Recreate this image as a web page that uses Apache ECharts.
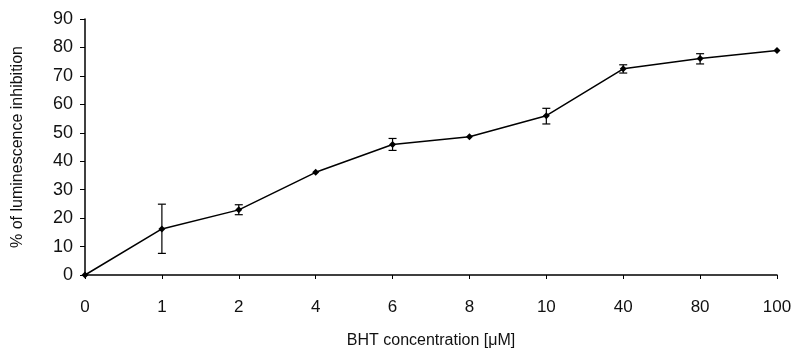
<!DOCTYPE html>
<html>
<head>
<meta charset="utf-8">
<script src="https://cdn.jsdelivr.net/npm/echarts@6/dist/echarts.min.js"></script>
<style>
  html, body { margin: 0; padding: 0; background: #fff; }
  #chart { width: 799px; height: 354px; }
</style>
</head>
<body>
<div id="chart"></div>
<script>
// BHT concentrations (uM), shown as evenly spaced categories
const concentrations = ['0', '1', '2', '4', '6', '8', '10', '40', '80', '100']
// mean % inhibition
const inhibition = [0, 16.2, 22.9, 36.1, 45.9, 48.6, 56.0, 72.5, 76.1, 78.9]
// error bar low / high
const errLow = [0, 7.6, 21.2, 36.1, 43.8, 48.6, 53.1, 71.0, 74.2, 78.9]
const errHigh = [0, 24.9, 24.7, 36.1, 48.0, 48.6, 58.6, 73.9, 77.8, 78.9]

const font = 'Liberation Sans, Arial, sans-serif'
const chart = echarts.init(document.getElementById('chart'))

const errData = concentrations.map((c, i) => [i, errLow[i], errHigh[i]])

const option = {
  animation: false,
  grid: { left: 85, right: 22, top: 19, bottom: 70 },
  xAxis: {
    type: 'category',
    data: concentrations,
    boundaryGap: false,
    name: 'BHT concentration [μM]',
    nameLocation: 'middle',
    nameGap: 58,
    nameTextStyle: { fontFamily: font, fontSize: 16, color: '#111' },
    axisLine: { lineStyle: { color: '#000', width: 1.5 } },
    axisTick: { alignWithLabel: true, length: 4, lineStyle: { color: '#000' } },
    axisLabel: { fontFamily: font, fontSize: 17, color: '#111', margin: 24 },
    splitLine: { show: false },
  },
  yAxis: {
    type: 'value',
    min: 0,
    max: 90,
    interval: 10,
    name: '% of luminescence inhibition',
    nameLocation: 'middle',
    nameGap: 59,
    nameTextStyle: { fontFamily: font, fontSize: 16, color: '#111' },
    axisLine: { show: true, lineStyle: { color: '#000', width: 1.5 } },
    axisTick: { show: true, length: 5, lineStyle: { color: '#000' } },
    axisLabel: { fontFamily: font, fontSize: 18, color: '#111', margin: 12 },
    splitLine: { show: false },
  },
  series: [
    {
      type: 'line',
      data: inhibition,
      symbol: 'diamond',
      symbolSize: 7,
      itemStyle: { color: '#000' },
      lineStyle: { color: '#000', width: 1.5 },
      z: 3,
    },
    {
      type: 'custom',
      data: errData,
      z: 4,
      renderItem: function (params, api) {
        const x = api.value(0)
        const lo = api.coord([x, api.value(1)])
        const hi = api.coord([x, api.value(2)])
        if (Math.abs(lo[1] - hi[1]) < 1) return null
        const w = 4
        const style = { stroke: '#000', lineWidth: 1.2 }
        return {
          type: 'group',
          children: [
            { type: 'line', shape: { x1: lo[0], y1: lo[1], x2: hi[0], y2: hi[1] }, style: style },
            { type: 'line', shape: { x1: lo[0] - w, y1: lo[1], x2: lo[0] + w, y2: lo[1] }, style: style },
            { type: 'line', shape: { x1: hi[0] - w, y1: hi[1], x2: hi[0] + w, y2: hi[1] }, style: style },
          ],
        }
      },
    },
  ],
}

chart.setOption(option)
</script>
</body>
</html>
